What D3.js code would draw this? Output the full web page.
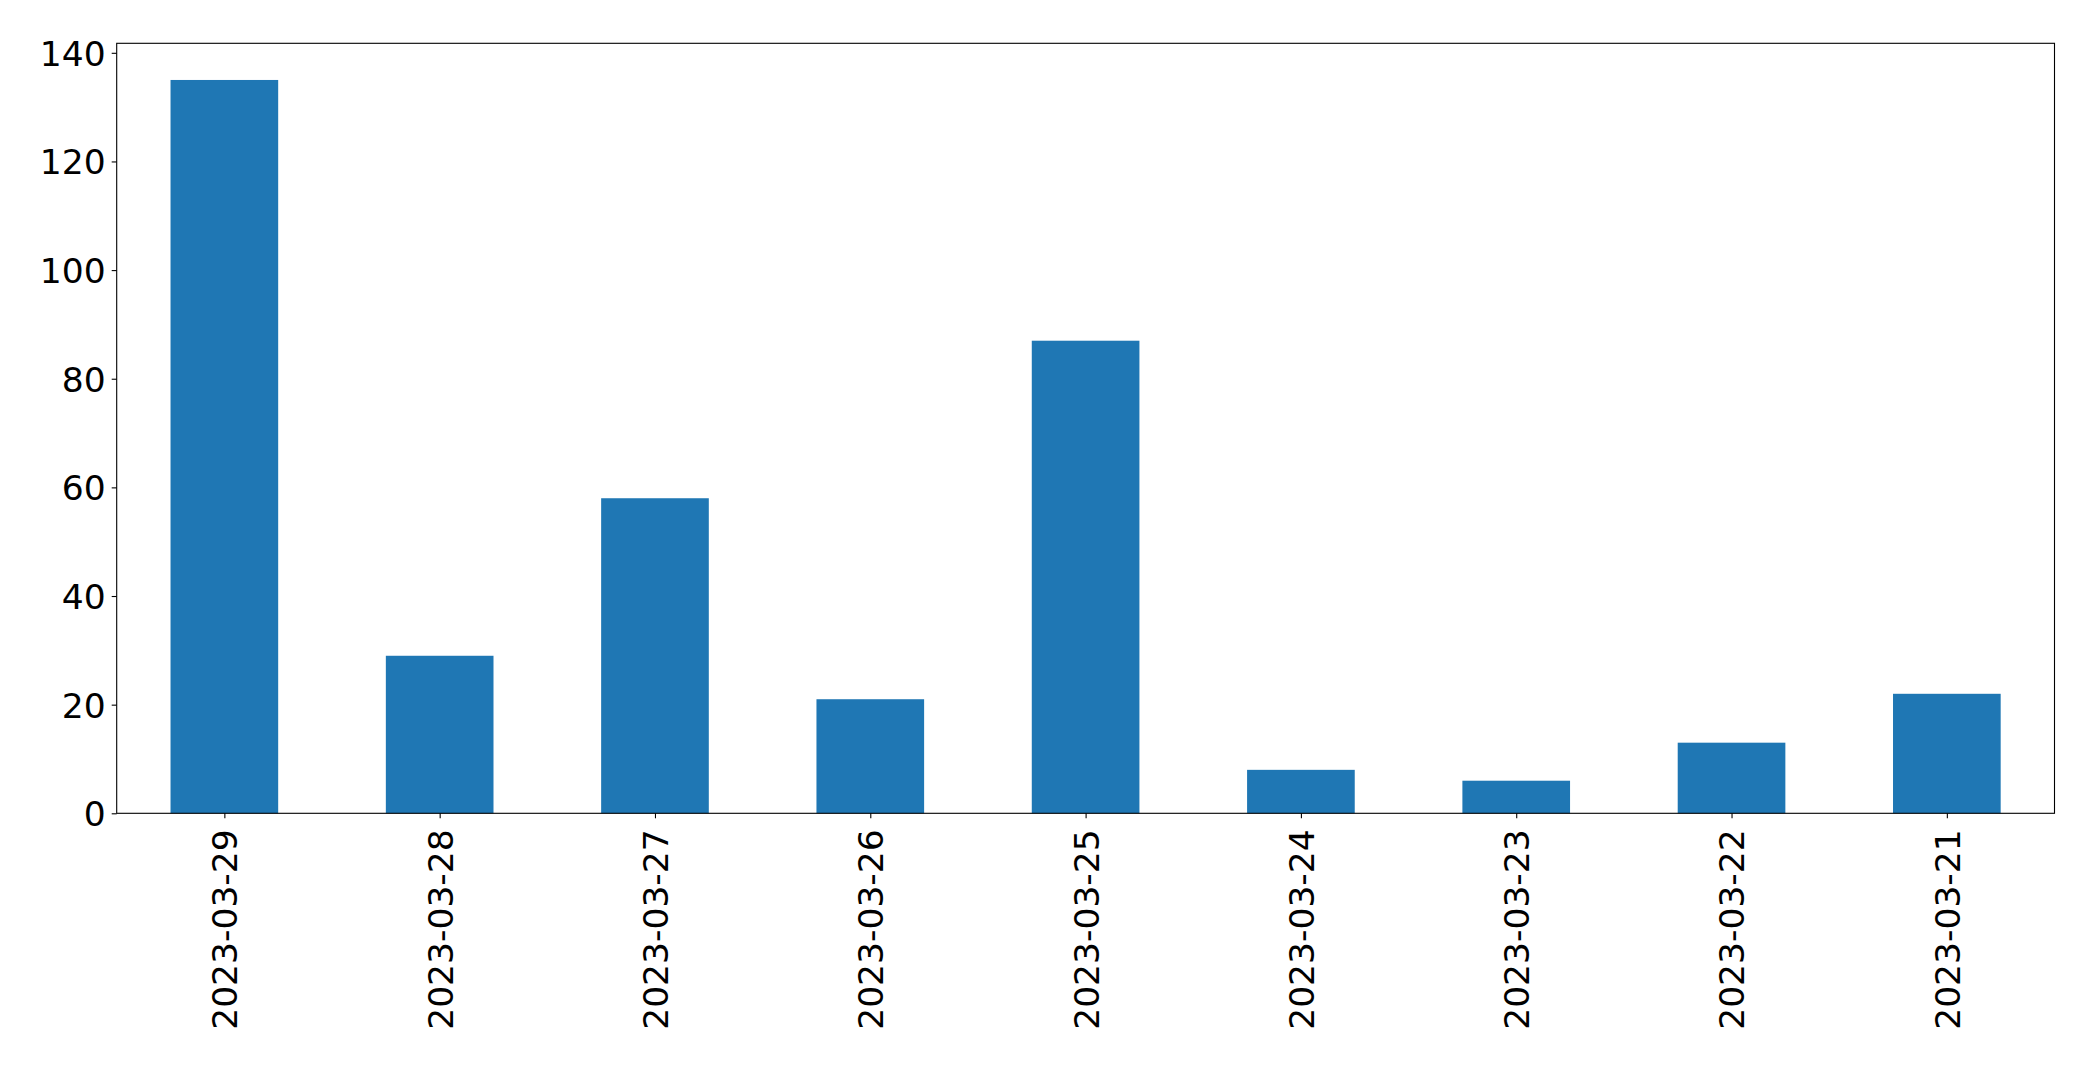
<!DOCTYPE html>
<html>
<head>
<meta charset="utf-8">
<script src="https://cdn.jsdelivr.net/npm/d3@7"></script>
<style>
  html, body { margin: 0; padding: 0; background: #fff; }
  svg { display: block; }
  text { font-family: "DejaVu Sans", sans-serif; fill: #000; }
</style>
</head>
<body>
<script>
const categories = ["2023-03-29","2023-03-28","2023-03-27","2023-03-26","2023-03-25","2023-03-24","2023-03-23","2023-03-22","2023-03-21"];
const values = [135, 29, 58, 21, 87, 8, 6, 13, 22];
const yTicks = [0, 20, 40, 60, 80, 100, 120, 140];

const W = 2093, H = 1065;
const mLeft = 116.7, mRight = 2054.5, mTop = 43.3, mBottom = 813.3;
const fontSize = 34.5;

const svg = d3.select("body").append("svg").attr("width", W).attr("height", H);

const n = categories.length;
const x = d3.scaleLinear().domain([-0.5, n - 0.5]).range([mLeft, mRight]);
const y = d3.scaleLinear().domain([0, d3.max(values) * 1.05]).range([mBottom, mTop]);

// bars
svg.append("g").selectAll("rect").data(values).join("rect")
  .attr("x", (d, i) => x(i - 0.25))
  .attr("width", (d, i) => x(i + 0.25) - x(i - 0.25))
  .attr("y", d => y(d))
  .attr("height", d => y(0) - y(d))
  .attr("fill", "#1f77b4");

// y axis
const yAxis = d3.axisLeft(y).tickValues(yTicks).tickSize(5).tickPadding(6).tickFormat(d3.format("d"));
const gy = svg.append("g").attr("transform", `translate(${mLeft},0)`).call(yAxis);
gy.select(".domain").remove();
gy.selectAll(".tick line").attr("stroke", "#000").attr("stroke-width", 1.1);
gy.selectAll(".tick text").attr("font-size", fontSize).attr("font-family", "DejaVu Sans").attr("dy", "0.36em");

// x axis
const xAxis = d3.axisBottom(x).tickValues(d3.range(n)).tickSize(5).tickFormat(i => categories[i]);
const gx = svg.append("g").attr("transform", `translate(0,${mBottom})`).call(xAxis);
gx.select(".domain").remove();
gx.selectAll(".tick line").attr("stroke", "#000").attr("stroke-width", 1.1);
gx.selectAll(".tick text")
  .attr("font-size", fontSize).attr("font-family", "DejaVu Sans")
  .attr("text-anchor", "end")
  .attr("transform", "rotate(-90)")
  .attr("x", -16).attr("y", 0).attr("dy", "0.36em");

// frame
svg.append("rect").attr("x", mLeft).attr("y", mTop)
  .attr("width", mRight - mLeft).attr("height", mBottom - mTop)
  .attr("fill", "none").attr("stroke", "#000").attr("stroke-width", 1.1);
</script>
</body>
</html>
